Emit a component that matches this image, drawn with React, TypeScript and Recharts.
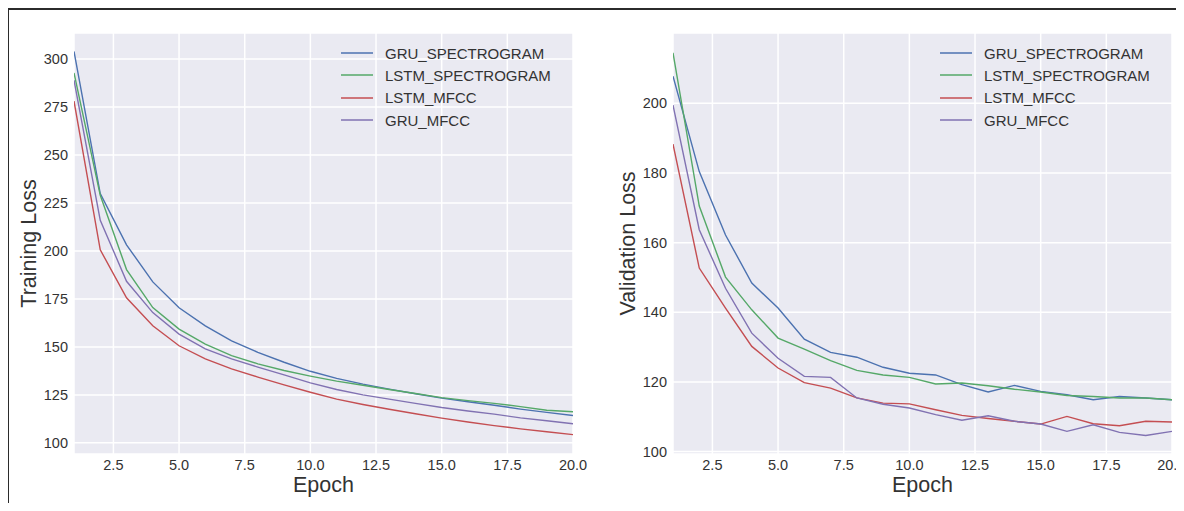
import { CartesianGrid, Label, Legend, Line, LineChart, XAxis, YAxis } from 'recharts'

const epochs = [1, 2, 3, 4, 5, 6, 7, 8, 9, 10, 11, 12, 13, 14, 15, 16, 17, 18, 19, 20]

// training loss
const trainGruSpec = [304, 229.9, 203.2, 183.9, 170.4, 161, 153.2, 147.2, 142, 137.3, 133.6, 130.6, 128, 125.6, 123.3, 121.4, 119.6, 117.6, 115.9, 114.3]
const trainLstmSpec = [292.8, 229, 190.3, 170.5, 159.3, 151.5, 145.5, 141.2, 137.7, 134.8, 132.2, 130, 127.8, 125.7, 123.6, 122, 120.6, 118.9, 117, 116.2]
const trainLstmMfcc = [278.1, 200.6, 175.6, 161, 150.6, 143.8, 138.6, 134.3, 130.2, 126.4, 122.8, 120, 117.5, 115.2, 112.9, 110.9, 109, 107.3, 105.8, 104.3]
const trainGruMfcc = [289, 216, 184.2, 167.9, 156.7, 149, 143.8, 139.5, 135.4, 131.3, 127.8, 125, 122.8, 120.6, 118.4, 116.6, 115, 113, 111.5, 110]

// validation loss
const valGruSpec = [207.8, 180.4, 162.2, 148.4, 141.2, 132.3, 128.5, 127.1, 124.2, 122.5, 122, 119.2, 117.1, 119, 117.3, 116.3, 114.9, 115.8, 115.4, 114.9]
const valLstmSpec = [214.5, 170.5, 150.1, 140.7, 132.6, 129.4, 126.1, 123.3, 122, 121.3, 119.4, 119.7, 118.9, 117.9, 117.1, 116.1, 115.8, 115.4, 115.4, 114.9]
const valLstmMfcc = [188.3, 152.7, 141.2, 130.2, 124, 119.8, 118.2, 115.4, 113.9, 113.7, 112, 110.4, 109.5, 108.7, 107.9, 110.1, 108, 107.4, 108.7, 108.5]
const valGruMfcc = [199.5, 163.7, 146.9, 134, 126.8, 121.6, 121.3, 115.4, 113.6, 112.5, 110.6, 109, 110.3, 108.7, 107.9, 105.8, 107.7, 105.5, 104.6, 105.8]

const epochTicks = [2.5, 5, 7.5, 10, 12.5, 15, 17.5, 20]
const trainTicks = [100, 125, 150, 175, 200, 225, 250, 275, 300]
const valTicks = [100, 120, 140, 160, 180, 200]

const seriesNames = ['GRU_SPECTROGRAM', 'LSTM_SPECTROGRAM', 'LSTM_MFCC', 'GRU_MFCC']
const colors = ['#4C72B0', '#55A868', '#C44E52', '#8172B2']

const FONT = '"Liberation Sans", Arial, sans-serif'
const TEXT = '#333'

const buildRows = (series: number[][]) =>
    epochs.map((e, i) => {
        const row: any = { epoch: e }
        seriesNames.forEach((n, k) => { row[n] = series[k][i] })
        return row
    })

const trainData = buildRows([trainGruSpec, trainLstmSpec, trainLstmMfcc, trainGruMfcc])
const valData = buildRows([valGruSpec, valLstmSpec, valLstmMfcc, valGruMfcc])

const LegendBox = (props: any) => {
    // keep the plotting order, not recharts' alphabetical one
    const items = [...(props.payload || [])].sort(
        (a: any, b: any) => seriesNames.indexOf(a.value) - seriesNames.indexOf(b.value)
    )
    return (
        <div style={{ fontFamily: FONT, fontSize: 15, color: TEXT }}>
            {items.map((p: any) => (
                <div key={p.value} style={{ display: 'flex', alignItems: 'center', height: 22.3 }}>
                    <svg width={32} height={4}>
                        <line x1={0} y1={2} x2={32} y2={2} stroke={p.color} strokeWidth={1.5} />
                    </svg>
                    <span style={{ marginLeft: 12, whiteSpace: 'nowrap' }}>{p.value}</span>
                </div>
            ))}
        </div>
    )
}

type PanelProps = {
    data: any[]
    left: number
    width: number
    margin: { top: number, right: number, bottom: number, left: number }
    yWidth: number
    yDomain: [number, number]
    yTicks: number[]
    yLabel: string
    yLabelX: number
    legendLeft: number
}

const LossPanel = ({ data, left, width, margin, yWidth, yDomain, yTicks, yLabel, yLabelX, legendLeft }: PanelProps) => {
    return (
        <div style={{ position: 'absolute', left, top: 0 }}>
            <LineChart width={width} height={511} data={data} margin={margin}>
                <CartesianGrid fill="#EAEAF2" stroke="#ffffff" strokeWidth={1.5} />
                <XAxis
                    dataKey="epoch"
                    type="number"
                    domain={[1, 20]}
                    ticks={epochTicks}
                    tickFormatter={(v: number) => v.toFixed(1)}
                    axisLine={false}
                    tickLine={false}
                    tickSize={0}
                    tickMargin={6}
                    height={50}
                    allowDataOverflow
                    tick={{ fill: TEXT, fontSize: 14.5, fontFamily: FONT }}
                >
                    <Label
                        content={(p: any) => {
                            const vb = p.viewBox
                            return (
                                <text x={vb.x + vb.width / 2} y={vb.y + 31} textAnchor="middle" dominantBaseline="central"
                                    fontSize={21.5} fontFamily={FONT} fill={TEXT}>Epoch</text>
                            )
                        }}
                    />
                </XAxis>
                <YAxis
                    domain={yDomain}
                    ticks={yTicks}
                    axisLine={false}
                    tickLine={false}
                    tickSize={0}
                    tickMargin={6}
                    width={yWidth}
                    allowDataOverflow
                    tick={{ fill: TEXT, fontSize: 14.5, fontFamily: FONT }}
                >
                    <Label
                        content={(p: any) => {
                            const vb = p.viewBox
                            const cy = vb.y + vb.height / 2
                            return (
                                <text x={yLabelX} y={cy} transform={`rotate(-90 ${yLabelX} ${cy})`} textAnchor="middle"
                                    dominantBaseline="central" fontSize={21.5} fontFamily={FONT} fill={TEXT}>{yLabel}</text>
                            )
                        }}
                    />
                </YAxis>
                <Legend
                    layout="vertical"
                    align="center"
                    verticalAlign="middle"
                    content={LegendBox}
                    wrapperStyle={{ top: 42, left: legendLeft, width: 'auto', height: 'auto' }}
                />
                {seriesNames.map((n, k) => (
                    <Line key={n} type="linear" dataKey={n} stroke={colors[k]} strokeWidth={1.4} dot={false} isAnimationActive={false} />
                ))}
            </LineChart>
        </div>
    )
}

const App = () => {
    return (
        <div style={{ position: 'relative', width: 1184, height: 511, margin: -8, background: '#fff', overflow: 'hidden' }}>
            <style>{'html, body { overflow: hidden; }'}</style>
            {/* dark frame of the screenshot: top and left edges only */}
            <div style={{ position: 'absolute', left: 6, top: 7, width: 1178, height: 3, background: '#2b2b2b' }} />
            <div style={{ position: 'absolute', left: 6, top: 7, width: 3, height: 504, background: '#2b2b2b' }} />
            <LossPanel
                data={trainData}
                left={0}
                width={590}
                margin={{ top: 33, right: 17, bottom: 7, left: 14 }}
                yWidth={60}
                yDomain={[94.2, 313.6]}
                yTicks={trainTicks}
                yLabel="Training Loss"
                yLabelX={28.5}
                legendLeft={341}
            />
            <LossPanel
                data={valData}
                left={590}
                width={594}
                margin={{ top: 33, right: 12, bottom: 7, left: 10 }}
                yWidth={73}
                yDomain={[99.3, 220.2]}
                yTicks={valTicks}
                yLabel="Validation Loss"
                yLabelX={37.5}
                legendLeft={350}
            />
        </div>
    )
}

export default App
